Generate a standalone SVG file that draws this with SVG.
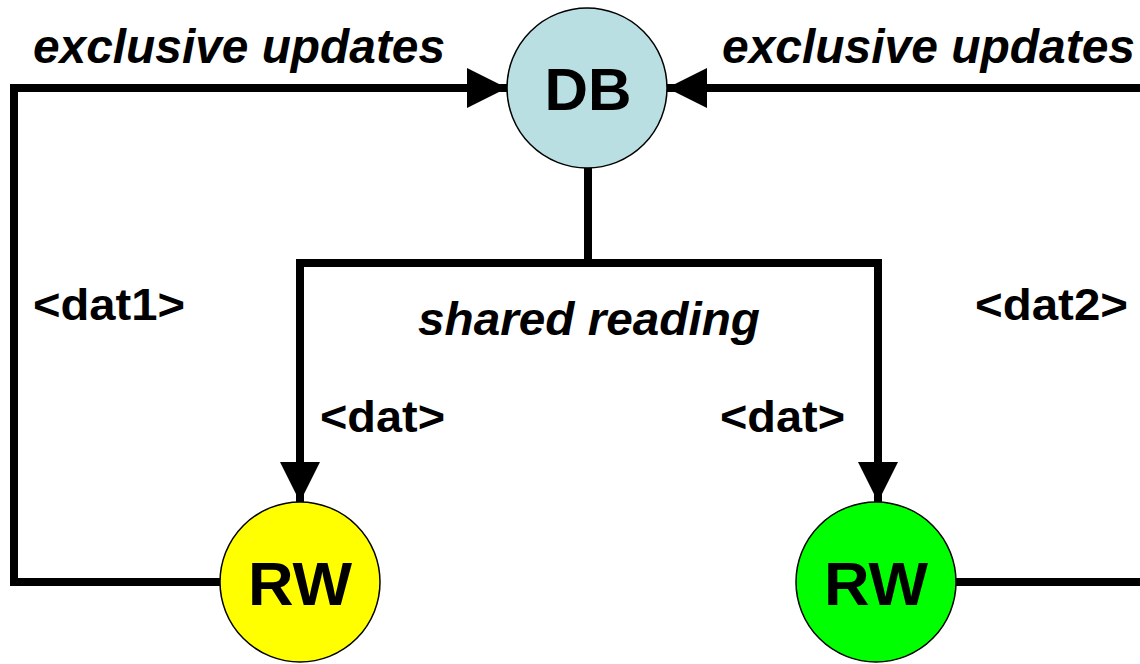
<svg xmlns="http://www.w3.org/2000/svg" width="1140" height="664" viewBox="0 0 1140 664">
<style>
.t{font-family:"Liberation Sans",Arial,sans-serif;font-weight:bold;fill:#000}
.i{font-style:italic}
.c{stroke:#000;stroke-width:8;fill:none}
.n{stroke:#000;stroke-width:1.5}
</style>
<defs>
<marker id="ah" markerUnits="userSpaceOnUse" markerWidth="42" markerHeight="40" refX="40" refY="20" orient="auto" viewBox="0 0 40 40">
<path d="M0,0 L40,20 L0,40 Z" fill="#000"/>
</marker>
</defs>
<rect width="1140" height="664" fill="#fff"/>
<g id="connectors">
<path class="c" d="M220,582 H14 V88 H507" marker-end="url(#ah)"/>
<path class="c" d="M956,582 H1140"/>
<path class="c" d="M1140,88 H667" marker-end="url(#ah)"/>
<path class="c" d="M588,168 V263"/>
<path class="c" d="M300,263 H878"/>
<path class="c" d="M300,259 V502" marker-end="url(#ah)"/>
<path class="c" d="M878,259 V502" marker-end="url(#ah)"/>
</g>
<g id="labels">
<text class="t i" x="33" y="63" font-size="48" textLength="412" lengthAdjust="spacingAndGlyphs">exclusive updates</text>
<text class="t i" x="722" y="63" font-size="48" textLength="413" lengthAdjust="spacingAndGlyphs">exclusive updates</text>
<text class="t" x="33" y="320" font-size="44" textLength="152" lengthAdjust="spacingAndGlyphs">&lt;dat1&gt;</text>
<text class="t" x="975" y="320" font-size="44" textLength="153" lengthAdjust="spacingAndGlyphs">&lt;dat2&gt;</text>
<text class="t i" x="418" y="335" font-size="47" textLength="342" lengthAdjust="spacingAndGlyphs">shared reading</text>
<text class="t" x="320" y="432" font-size="44" textLength="125" lengthAdjust="spacingAndGlyphs">&lt;dat&gt;</text>
<text class="t" x="720" y="432" font-size="44" textLength="125" lengthAdjust="spacingAndGlyphs">&lt;dat&gt;</text>
</g>
<g id="db">
<ellipse class="n" cx="587" cy="88" rx="80" ry="80" fill="#b9dfe3"/>
<text class="t" x="588" y="110" font-size="60" text-anchor="middle" textLength="87" lengthAdjust="spacingAndGlyphs">DB</text>
</g>
<g id="rw1">
<circle class="n" cx="300" cy="582" r="80" fill="#ffff00"/>
<text class="t" x="300" y="605" font-size="62" text-anchor="middle" textLength="104" lengthAdjust="spacingAndGlyphs">RW</text>
</g>
<g id="rw2">
<circle class="n" cx="876" cy="582" r="80" fill="#00ff00"/>
<text class="t" x="876" y="605" font-size="62" text-anchor="middle" textLength="104" lengthAdjust="spacingAndGlyphs">RW</text>
</g>
</svg>
